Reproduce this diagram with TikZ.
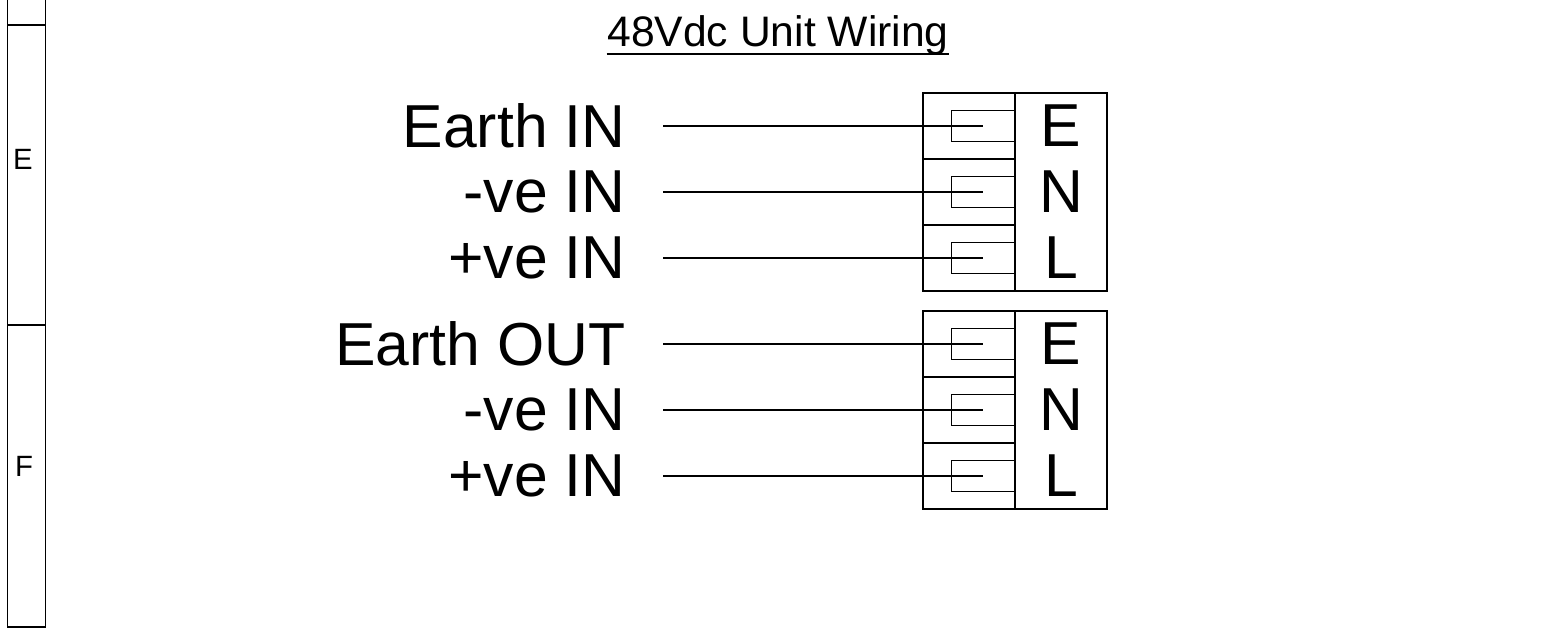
\documentclass[tikz,border=0pt]{standalone}
\usepackage{fontspec}
\setmainfont{Liberation Sans}
\begin{document}
\begin{tikzpicture}
    % 样式: 坐标单位按像素取 (1px = 0.75pt), y 向下
    [x=0.75pt, y=-0.75pt, line width=1.1pt,
    BigText/.style={font=\fontsize{45.5}{50}\selectfont, inner sep=0pt},
    LblNode/.style={BigText, anchor=east, inner xsep=27.75pt},
    PinNode/.style={BigText, anchor=center},
    ZoneText/.style={font=\fontsize{22}{26}\selectfont, inner sep=0pt},
    CellBox/.style={rectangle, draw, minimum width=69pt, minimum height=49.5pt, inner sep=0pt},
    PinBox/.style={rectangle, draw, minimum width=69pt, minimum height=148.5pt, inner sep=0pt},
    ClampBox/.style={rectangle, draw, line width=0.9pt, minimum width=48pt, minimum height=23.25pt, inner sep=0pt},
    WireLine/.style={line width=0.8pt}]
    \useasboundingbox (0,0) rectangle (1541,630);

    % 左侧图框条
    \draw (7.5,0) -- (7.5,627) -- (45.5,627) -- (45.5,0);
    \draw (7.5,25) -- (45.5,25);
    \draw (7.5,325) -- (45.5,325);
    \node[ZoneText] (zoneE) at (23,159.5) {E};
    \node[ZoneText] (zoneF) at (24,466) {F};

    % 标题
    \node[font=\fontsize{32}{36}\selectfont, inner sep=0pt, anchor=base] (title) at (778,47) {48Vdc Unit Wiring};
    \draw[line width=0.9pt] ([yshift=-5.25pt]title.base west) -- ([yshift=-5.25pt]title.base east);

    % 端子排: \b 块编号, \t 顶边 y
    \foreach \b/\t in {1/93, 2/311}
    {
        \node[PinBox] (pins\b) at (1061,\t+99) {};
        \foreach \r/\p in {0/E, 1/N, 2/L}
        {
            \node[CellBox] (cell\b\r) at (969,\t+33+66*\r) {};
            \node[ClampBox, anchor=east] (clamp\b\r) at (cell\b\r.east) {};
            \node[PinNode] (pin\b\r) at (1061,\t+33+66*\r) {\p};
            \coordinate (end\b\r) at (983,\t+33+66*\r);
        }
    }

    % 导线名称
    \node[LblNode] (lbl10) at (663,126) {Earth IN};
    \node[LblNode] (lbl11) at (663,192) {-ve IN};
    \node[LblNode] (lbl12) at (663,258) {+ve IN};
    \node[LblNode] (lbl20) at (663,344) {Earth OUT};
    \node[LblNode] (lbl21) at (663,410) {-ve IN};
    \node[LblNode] (lbl22) at (663,476) {+ve IN};

    % 导线
    \foreach \b in {1,2}
    {\foreach \r in {0,1,2}
        \draw[WireLine] (lbl\b\r.east) -- (end\b\r);
    }
\end{tikzpicture}
\end{document}
